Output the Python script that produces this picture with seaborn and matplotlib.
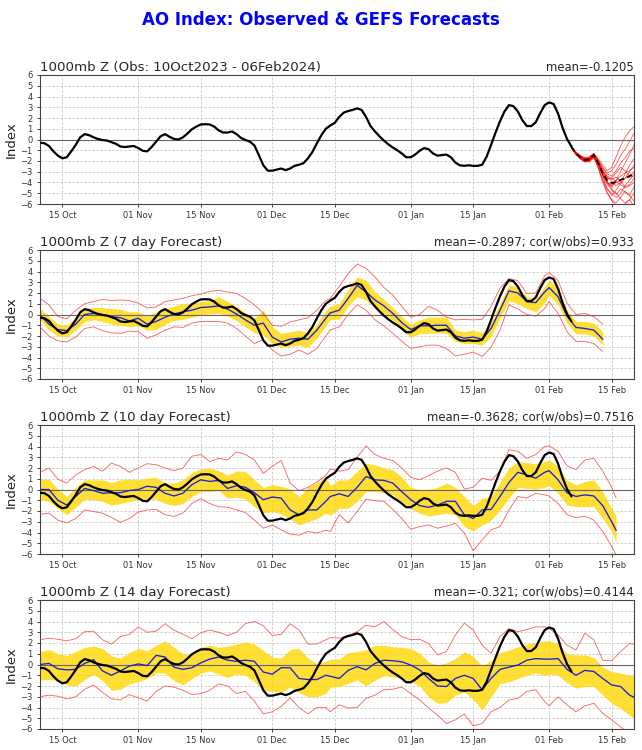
import matplotlib
matplotlib.use("Agg")
import matplotlib.dates as mdates
import matplotlib.pyplot as plt
import pandas as pd
import seaborn as sns

# ---------------- data ----------------
START = pd.Timestamp("2023-10-10")
END = pd.Timestamp("2024-02-20")

obs_dates = pd.date_range("2023-10-10", "2024-02-06", freq="D")
obs_values = [
    # Oct 10 - Oct 31
    -0.3, -0.35, -0.6, -1.1, -1.5, -1.75, -1.65, -1.1, -0.5, 0.2, 0.5,
    0.4, 0.2, 0.05, -0.05, -0.1, -0.25, -0.4, -0.65, -0.7, -0.65, -0.6,
    # Nov
    -0.8, -1.05, -1.1, -0.7, -0.2, 0.3, 0.5, 0.25, 0.05, 0.0, 0.2, 0.55,
    0.95, 1.2, 1.4, 1.42, 1.4, 1.2, 0.85, 0.65, 0.65, 0.75, 0.5, 0.15,
    -0.05, -0.2, -0.55, -1.45, -2.4, -2.9,
    # Dec
    -2.9, -2.8, -2.7, -2.85, -2.7, -2.45, -2.35, -2.2, -1.75, -1.15, -0.35,
    0.4, 1.0, 1.3, 1.55, 2.1, 2.5, 2.65, 2.75, 2.9, 2.75, 2.1, 1.25, 0.75,
    0.3, -0.1, -0.45, -0.75, -1.0, -1.3, -1.65,
    # Jan
    -1.65, -1.4, -1.05, -0.8, -0.9, -1.3, -1.5, -1.45, -1.4, -1.65, -2.15,
    -2.4, -2.45, -2.4, -2.45, -2.45, -2.35, -1.6, -0.5, 0.65, 1.7, 2.6,
    3.2, 3.1, 2.6, 1.8, 1.25, 1.25, 1.6, 2.45, 3.2,
    # Feb 1 - 6
    3.45, 3.3, 2.4, 1.1, 0.05, -0.65,
]

ens_dates = pd.date_range("2024-02-06", "2024-02-20", freq="D")
ens_mean = [-0.7, -1.3, -1.65, -1.9, -1.85, -1.45, -2.2, -3.15, -3.8,
            -4.05, -3.95, -3.75, -3.6, -3.4, -3.2]
ens_members = [
    [-0.7, -1.2, -1.5, -1.7, -1.6, -1.3, -1.8, -2.4, -2.9, -2.6, -1.6, -0.6, 0.2, 0.8, 1.2],
    [-0.7, -1.3, -1.7, -2.0, -2.1, -1.7, -2.6, -3.8, -4.9, -5.6, -5.9, -5.4, -4.8, -5.2, -5.7],
    [-0.7, -1.4, -1.8, -2.1, -1.9, -1.5, -2.3, -3.3, -4.0, -4.2, -3.8, -3.4, -3.1, -2.9, -2.6],
    [-0.8, -1.3, -1.6, -1.8, -1.7, -1.3, -2.0, -3.0, -3.9, -4.6, -5.0, -5.5, -5.9, -5.6, -5.0],
    [-0.7, -1.2, -1.6, -1.9, -1.9, -1.4, -2.2, -3.0, -3.4, -3.6, -3.1, -2.6, -2.9, -3.4, -3.0],
    [-0.7, -1.3, -1.7, -1.9, -1.8, -1.5, -2.1, -3.4, -4.6, -5.2, -4.7, -4.1, -3.6, -3.0, -2.4],
    [-0.7, -1.3, -1.6, -1.8, -1.8, -1.4, -2.0, -2.7, -3.1, -2.9, -2.3, -1.5, -0.9, -0.2, 0.6],
    [-0.8, -1.4, -1.8, -2.0, -2.0, -1.6, -2.7, -4.0, -5.0, -5.7, -6.1, -6.3, -6.0, -5.6, -6.2],
    [-0.7, -1.3, -1.7, -1.9, -1.9, -1.5, -2.2, -3.1, -3.6, -3.7, -3.5, -3.9, -4.4, -4.2, -3.6],
    [-0.7, -1.2, -1.6, -1.8, -1.7, -1.3, -2.0, -2.8, -3.5, -3.9, -4.3, -4.0, -3.2, -2.4, -1.8],
    [-0.7, -1.3, -1.7, -2.0, -1.9, -1.5, -2.3, -3.3, -4.0, -4.3, -4.0, -3.8, -3.6, -3.5, -3.4],
    [-0.8, -1.4, -1.7, -1.9, -1.8, -1.4, -2.2, -3.2, -4.1, -4.7, -5.1, -4.6, -4.9, -5.2, -4.4],
    [-0.7, -1.2, -1.6, -1.8, -1.8, -1.5, -2.1, -3.0, -3.6, -3.6, -3.9, -4.2, -4.5, -4.3, -4.0],
    [-0.7, -1.3, -1.7, -2.0, -2.0, -1.6, -2.4, -3.4, -4.1, -4.4, -3.8, -3.0, -2.2, -1.4, -0.5],
    [-0.7, -1.2, -1.5, -1.7, -1.7, -1.3, -1.9, -2.6, -3.2, -3.4, -2.9, -2.2, -1.7, -1.1, -0.8],
    [-0.8, -1.3, -1.8, -2.1, -2.0, -1.6, -2.5, -3.7, -4.6, -5.0, -5.4, -5.0, -4.3, -3.8, -3.2],
]

# 7 day forecast verification (dates: every 2 days, see fc_dates)
mean_7d = [
    -0.05, -0.9, -1.4, -1.5, -0.9, 0.0, 0.1, 0.0, -0.2, -0.3, -0.6, -0.35,
    -0.9, -0.65, -0.25, 0.05, 0.25, 0.4, 0.65, 0.7, 0.8, 0.5, 0.05, -0.5,
    -1.0, -0.8, -2.1, -2.55, -2.3, -2.2, -2.3, -1.45, -0.35,
    0.15, 0.4, 1.5, 2.7, 2.1, 1.35, 0.8, 0.1, -0.75, -1.4, -1.05, -1.05,
    -1.0, -1.0, -2.0, -2.2, -2.1, -2.3, -1.3, 0.4, 2.2, 2.0, 1.2, 1.1, 2.1,
    2.5, 1.65, -0.15, -1.2, -1.3, -1.45, -2.3,
]
band_hi_7d = [
    0.55, -0.15, -0.9, -1.0, -0.25, 0.5, 0.65, 0.65, 0.55, 0.5, 0.25, 0.25,
    -0.15, 0.25, 0.55, 0.8, 1.0, 1.05, 1.2, 1.3, 1.65, 1.2, 0.75, 0.15,
    -0.35, 0.4, -1.15, -1.75, -1.6, -1.45, -1.7, -0.9, 0.35,
    0.8, 1.0, 2.3, 3.5, 3.2, 2.1, 1.4, 0.65, -0.2, -0.9, -0.5, -0.25,
    -0.25, -0.25, -1.45, -1.6, -1.45, -1.7, -0.65, 1.05, 2.75, 2.6, 1.65,
    1.5, 2.6,
    3.2, 2.45, 0.4, -0.65, -0.65, -0.8, -1.6,
]
band_lo_7d = [
    -0.5, -1.45, -2.0, -2.1, -1.45, -0.65, -0.5, -0.65, -0.9, -1.0, -1.15,
    -1.05, -1.45, -1.4, -0.9, -0.55, -0.45, -0.25, 0.0, 0.05, 0.1, -0.15,
    -0.55, -1.15, -1.7, -1.9, -2.7, -3.05, -2.95, -2.85, -3.05, -2.2, -1.05,
    -0.45, -0.45, 0.8, 1.65, 1.35, 0.55, 0.1, -0.55, -1.45, -2.1, -1.8,
    -1.75, -1.7, -1.75, -2.5, -2.7, -2.7, -2.85, -2.05, -0.35, 1.3, 1.0,
    0.55, 0.25, 1.1,
    1.8, 0.9, -0.8, -1.8, -1.8, -2.0, -2.85,
]
max_7d = [
    1.5, 0.9, -0.2, -0.4, 0.4, 1.0, 1.2, 1.4, 1.3, 1.35, 1.3, 1.05, 0.6,
    0.7, 1.2, 1.35, 1.5, 1.75, 1.9, 2.15, 2.25, 2.1, 1.95, 1.5, 0.9, 0.1,
    -1.0, -1.1, -0.7, -0.5, -0.3, 0.4, 1.3,
    1.5, 2.6, 3.8, 4.7, 4.3, 3.5, 2.5, 1.8, 0.75, -0.25, 0.0, 0.75, 0.4,
    -0.25, -0.5, -0.45, -0.5, -0.45, 0.75, 2.45, 3.35, 3.15, 1.95, 2.0, 3.6,
    3.9, 3.15, 1.05, 0.0, 0.1, -0.2, -0.9,
]
min_7d = [
    -1.15, -2.0, -2.45, -2.55, -2.1, -1.3, -1.15, -1.5, -1.7, -1.75, -1.55,
    -1.6, -2.2, -1.9, -1.45, -1.15, -1.2, -0.8, -0.65, -0.65, -0.65, -0.8,
    -1.3, -2.0, -2.7, -2.35, -3.3, -3.85, -3.7, -3.3, -3.7, -3.15, -2.0,
    -1.45, -1.15, 0.0, 0.9, 0.4, -0.5, -1.05, -1.75, -2.5, -3.15, -3.0,
    -2.85, -2.85, -3.15, -3.85, -3.7, -3.5, -3.9, -3.05, -1.45, 0.9, 0.5,
    0.0, -0.15, 0.55,
    1.2, 0.1, -1.6, -2.5, -2.5, -2.7, -3.45,
]

# 10 day forecast verification
mean_10d = [
    0.0, 0.0, -1.0, -1.45, -0.65, 0.1, -0.1, -0.35, -0.3, -0.3, -0.1, 0.0,
    0.3, 0.2, -0.35, -0.6, -0.35, 0.45, 0.9, 0.75, 0.85, 0.1, 0.35, 0.2,
    -0.3, -0.95, -0.7, -0.8, -1.9, -2.35, -1.9, -1.9, -1.1,
    -0.65, -0.4, -0.65, 0.2, 1.2, 0.9, 0.85, 0.6, -0.2, -0.95, -1.5, -1.65,
    -1.45, -1.1, -1.1, -2.35, -2.7, -1.9, -1.85, -0.65, 0.65, 1.6, 1.35,
    1.05, 1.6,
    1.75, 0.9, -0.3, -0.65, -0.5, -0.6, -1.5, -3.0, -3.8,
]
band_hi_10d = [
    0.95, 0.95, 0.05, -0.65, 0.2, 0.9, 0.9, 0.9, 0.65, 0.9, 0.95, 0.9,
    1.05, 1.15, 0.6, 0.6, 0.9, 1.6, 1.9, 2.0, 1.75, 1.35, 1.7, 1.7, 0.9,
    0.2, 0.45, 0.3, 0.05, -0.65, 0.2, 0.65, 1.15,
    0.35, 0.9, 0.9, 1.7, 2.45, 2.3, 2.0, 1.85, 1.15, 0.2, 0.0, 0.0, 0.2,
    0.6, 0.2, -0.65, -1.5, -0.8, -0.65, 0.65, 2.0, 2.6, 2.5, 2.4, 2.6,
    2.75, 2.15, 0.85, 0.45, 0.75, 0.9, -0.2, -1.75, -2.5,
]
band_lo_10d = [
    -0.95, -1.1, -1.75, -2.35, -1.65, -0.9, -0.95, -1.1, -1.45, -1.3, -1.1,
    -0.95, -0.9, -0.9, -1.3, -1.5, -1.3, -0.65, -0.2, -0.2, -0.1, -0.8,
    -0.7, -0.9, -1.6, -2.2, -2.05, -2.25, -2.75, -3.3, -3.0, -2.7, -2.2,
    -2.4, -1.75, -1.75, -1.1, -0.2, -0.2, -0.3, -0.5, -1.1, -1.75, -2.2,
    -2.45, -2.35, -2.2, -2.35, -3.45, -3.85, -3.3, -2.85, -1.9, -0.8, 0.2,
    0.1, 0.05, 0.2,
    0.35, -0.35, -1.45, -1.6, -1.6, -1.6, -2.7, -3.9, -4.95,
]
max_10d = [
    1.6, 2.0, 0.95, 0.6, 1.35, 1.85, 2.15, 1.7, 2.45, 2.15, 1.6, 2.0, 2.4,
    2.3, 2.0, 1.75, 2.0, 3.1, 3.25, 2.6, 2.9, 2.75, 3.5, 3.25, 2.75, 1.5,
    2.15, 2.7, 0.6, -0.1, 0.2, 0.7, 1.3,
    1.9, 1.7, 1.85, 3.0, 4.05, 3.25, 2.9, 2.7, 2.0, 1.15, 0.9, 1.3, 1.7,
    2.0, 1.6, 0.05, 0.2, 1.05, 0.85, 1.7, 3.7, 3.55, 2.9, 3.25, 4.0,
    4.05, 3.55, 2.2, 1.85, 2.75, 2.9, 1.7, 0.2, -0.8,
]
min_10d = [
    -2.3, -2.2, -2.85, -3.1, -2.7, -1.9, -2.05, -2.2, -2.6, -3.05, -2.7,
    -2.1, -1.9, -1.85, -2.35, -2.5, -2.2, -1.3, -0.85, -1.3, -1.6, -1.65,
    -1.9, -2.15, -2.85, -3.6, -3.3, -3.75, -4.15, -4.25, -3.9, -4.05, -3.8,
    -3.9, -2.35, -3.1, -2.05, -0.9, -1.05, -1.1, -1.85, -2.7, -3.7, -3.45,
    -3.3, -3.6, -3.4, -3.15, -4.05, -5.7, -4.7, -3.75, -3.45, -1.9, -0.65,
    -0.8, -0.35, -0.5,
    -0.6, -1.3, -2.35, -2.6, -2.5, -2.85, -3.9, -5.3, -6.1,
]

# 14 day forecast verification
mean_14d = [
    0.0, 0.1, -0.4, -0.5, -0.45, 0.1, 0.45, -0.6, -1.0, -0.6, -0.15, 0.05,
    -0.1, 0.85, 0.7, -0.25, -0.45, -0.3, 0.15, 0.5, 0.7, 0.4, 0.3, 0.4,
    0.3, -0.7, -0.9, -0.3, -0.3, -1.3, -1.4, -1.4, -1.0,
    -1.1, -1.3, -0.55, -0.2, -0.5, 0.1, 0.4, 0.35, 0.25, -0.05, -0.5, -1.3,
    -2.0, -2.05, -1.3, -1.0, -1.3, -2.35, -1.3, -0.45, -0.25, -0.05, 0.4,
    0.55, 0.5,
    0.5, 0.55, -0.45, -1.0, -0.55, -0.65, -1.3, -1.9, -2.05, -2.85, -3.05,
]
band_hi_14d = [
    1.2, 1.4, 1.0, 0.85, 1.2, 1.6, 1.7, 1.5, 0.8, 0.6, 1.1, 1.5, 1.3, 1.8,
    2.2, 1.6, 1.0, 1.0, 1.6, 1.8, 1.6, 1.7, 1.9, 2.1, 1.9, 1.3, 0.7, 0.6,
    1.4, 1.5, 0.6, 0.1, 0.3,
    0.5, 0.5, 1.1, 1.2, 1.35, 1.8, 1.8, 1.65, 1.6, 1.5, 1.05, 0.25, -0.05,
    0.15, 0.55, 1.2, 0.75, -0.15, 0.4, 1.1, 1.35, 1.65, 1.9, 2.05, 2.2,
    2.2, 1.95, 1.0, 0.9, 0.9, 0.65, -0.25, -0.65, -0.8, -1.0, -1.05,
]
band_lo_14d = [
    -1.45, -1.4, -1.5, -1.9, -2.0, -1.4, -0.9, -1.5, -2.4, -2.3, -1.8,
    -1.6, -1.3, -0.8, -0.8, -1.5, -1.9, -1.3, -0.8, -0.6, -0.9, -1.2, -0.9,
    -1.0, -1.6, -2.4, -2.5, -2.6, -2.1, -2.6, -3.0, -3.0, -2.7,
    -2.1, -2.05, -1.75, -1.45, -2.0, -1.45, -1.05, -1.15, -1.3, -1.6, -2.0,
    -3.0, -3.6, -3.55, -2.85, -2.55, -3.25, -4.25, -3.0, -1.8, -1.6, -1.3,
    -1.0, -0.8, -1.0,
    -0.9, -1.0, -1.7, -2.2, -2.05, -2.05, -2.85, -3.6, -4.1, -4.7, -5.0,
]
max_14d = [
    2.3, 2.45, 2.35, 2.2, 2.4, 3.05, 3.1, 2.3, 1.9, 2.6, 2.8, 3.5, 3.0,
    3.1, 3.8, 3.2, 2.8, 2.4, 2.95, 3.2, 3.0, 2.7, 3.0, 3.8, 4.0, 3.6, 2.7,
    2.8, 3.8, 3.2, 1.9, 1.9, 2.3,
    2.5, 2.45, 2.65, 3.05, 3.65, 3.5, 4.0, 3.25, 2.6, 2.3, 2.35, 1.95, 0.9,
    1.2, 2.75, 3.85, 3.2, 1.8, 1.05, 2.6, 3.35, 3.05, 3.25, 3.5, 3.5,
    3.35, 2.75, 1.8, 1.35, 2.9, 2.3, 0.4, 0.35, 1.2, 1.95, 1.9,
]
min_14d = [
    -3.0, -2.85, -2.95, -3.2, -3.0, -2.3, -1.9, -2.6, -3.2, -3.3, -2.8,
    -3.1, -3.4, -2.5, -2.0, -2.1, -2.4, -2.8, -2.7, -2.4, -1.8, -2.0, -2.7,
    -2.5, -3.4, -4.6, -4.4, -3.9, -3.1, -4.0, -4.6, -4.0, -4.0,
    -4.4, -3.75, -4.05, -4.0, -3.15, -2.85, -2.35, -2.3, -2.1, -2.7, -3.3,
    -4.05, -4.7, -5.5, -5.15, -4.6, -5.7, -5.5, -4.4, -4.0, -3.3, -3.15,
    -2.5, -2.35, -3.45,
    -3.85, -3.0, -3.75, -4.4, -3.85, -3.6, -4.55, -5.15, -5.8, -6.4, -6.7,
]

panel_titles = [
    "1000mb Z (Obs: 10Oct2023 - 06Feb2024)",
    "1000mb Z (7 day Forecast)",
    "1000mb Z (10 day Forecast)",
    "1000mb Z (14 day Forecast)",
]
panel_stats = [
    "mean=-0.1205",
    "mean=-0.2897; cor(w/obs)=0.933",
    "mean=-0.3628; cor(w/obs)=0.7516",
    "mean=-0.321; cor(w/obs)=0.4144",
]


def fc_dates(last_day):
    # sampling used when reading the forecast curves off the chart
    days = list(range(0, 65, 2)) + list(range(65, 114, 2)) + list(range(114, last_day, 2)) + [last_day]
    return START + pd.to_timedelta(days, unit="D")


# ---------------- plotting ----------------
sns.set_style("ticks")
plt.rcParams["font.family"] = ["DejaVu Sans"]

fig = plt.figure(figsize=(642 / 80, 750 / 80), dpi=80)
fig.suptitle("AO Index: Observed & GEFS Forecasts", color="#0000ff",
             fontweight="bold", fontsize=15, y=0.985)

left, width, height = 40 / 642, 594 / 642, 129 / 750
bottoms = [1 - 204 / 750, 1 - 379 / 750, 1 - 554 / 750, 1 - 729 / 750]
axes = [fig.add_axes([left, b, width, height]) for b in bottoms]


def style_axis(ax, title, stat):
    ax.set_xlim(START, END)
    ax.set_ylim(-6, 6)
    ax.set_yticks(range(-6, 7))
    ax.xaxis.set_major_locator(mdates.DayLocator(bymonthday=[1, 15]))
    ax.xaxis.set_major_formatter(mdates.DateFormatter("%d %b"))
    ax.tick_params(labelsize=7.5, colors="#333333", length=3, width=0.8)
    ax.grid(True, color="#c8c8c8", linestyle=(0, (2.5, 2)), linewidth=0.8)
    ax.set_axisbelow(True)
    ax.axhline(0, color="#666666", linewidth=1.0, zorder=2.5)
    for s in ax.spines.values():
        s.set_color("#444444")
        s.set_linewidth(1.0)
    ax.set_ylabel("Index", fontsize=12, labelpad=2)
    ax.set_xlabel("")
    ax.set_title(title, loc="left", fontsize=12, pad=4)
    ax.set_title(stat, loc="right", fontsize=10.5, pad=4)


def line(ax, x, y, **kw):
    sns.lineplot(x=x, y=y, ax=ax, estimator=None, sort=False, legend=False, **kw)


# observed panel with the ensemble plume
ax = axes[0]
for member in ens_members:
    line(ax, ens_dates, member, color="#ff0000", linewidth=0.7, alpha=0.7)
line(ax, obs_dates, obs_values, color="black", linewidth=2.0, zorder=4)
line(ax, ens_dates, ens_mean, color="black", linewidth=1.6, linestyle=(0, (3, 2)), zorder=5)
style_axis(ax, panel_titles[0], panel_stats[0])

forecasts = [
    (126, mean_7d, band_lo_7d, band_hi_7d, min_7d, max_7d),
    (129, mean_10d, band_lo_10d, band_hi_10d, min_10d, max_10d),
    (133, mean_14d, band_lo_14d, band_hi_14d, min_14d, max_14d),
]
for ax, (last, mean, lo, hi, mn, mx), title, stat in zip(axes[1:], forecasts, panel_titles[1:], panel_stats[1:]):
    d = fc_dates(last)
    ax.fill_between(d, lo, hi, color="#ffd700", alpha=0.8, linewidth=0, zorder=2)
    line(ax, d, mx, color="#ff3030", linewidth=0.8, alpha=0.75, zorder=3)
    line(ax, d, mn, color="#ff3030", linewidth=0.8, alpha=0.75, zorder=3)
    line(ax, d, mean, color="#1f1fd8", linewidth=1.2, zorder=4)
    line(ax, obs_dates, obs_values, color="black", linewidth=2.0, zorder=5)
    style_axis(ax, title, stat)

fig.savefig("out.png", dpi=80)
